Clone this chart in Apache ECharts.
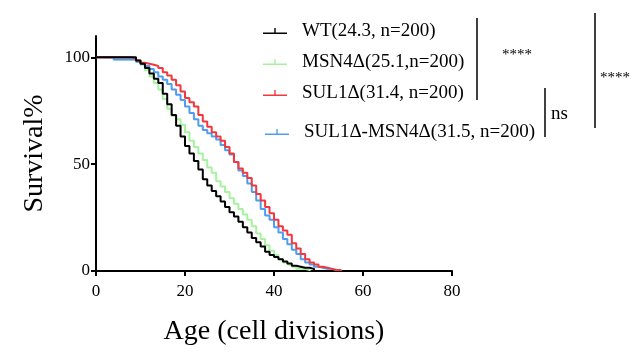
<!DOCTYPE html>
<html>
<head>
    <meta charset="utf-8">
    <style>
        html, body {
            width: 100%;
            height: 100%;
            margin: 0;
            background: #fff;
        }

        #chart-panel {
            width: 644px;
            height: 363px;
        }
    </style>
    <script src="https://cdn.jsdelivr.net/npm/echarts@6/dist/echarts.min.js"></script>
</head>
<body>
<div id="chart-panel"></div>
<script type="text/javascript">

  // age in cell divisions, 0..55
  let ages = [];
  for (let i = 0; i <= 55; i++) ages.push(i);

  // survival %, one value per age
  let wt = [100, 100, 100, 100, 100, 100, 100, 100, 100, 98.5,
            97, 95, 92.5, 90, 88, 83, 78, 73, 68, 63,
            58.5, 55, 51.5, 47.5, 43, 40, 37.5, 35, 32.5, 30,
            27.5, 25.5, 23, 20.5, 18, 15.5, 13.5, 11.5, 9, 7.5,
            6.5, 5.5, 4.5, 3.5, 2.5, 2, 1.5, 1.5, 1, 0];
  let msn4 = [100, 100, 100, 100, 99, 99, 99, 99, 99, 98,
              96.5, 94, 91, 88, 85, 80.5, 76, 72.5, 71, 68.5,
              65, 61, 58, 55, 52, 48.5, 46, 42, 39.5, 37,
              34, 31.5, 29, 26.5, 24, 21, 17.5, 15, 12, 9.5,
              7.5, 5.5, 4, 3, 2, 1, 1, 0.5, 0];
  let sul1 = [100, 100, 100, 100, 100, 100, 100, 100, 99.5, 98.5,
              97.5, 97, 96.5, 96, 95, 93, 91.5, 89.5, 87, 84,
              81, 79, 77, 73, 70, 67.5, 65, 63, 61, 58,
              55, 51, 48, 46, 43.5, 40, 36, 33, 30, 27,
              24, 21, 19, 17, 13, 10.5, 8, 5.5, 4, 3,
              2, 1.5, 1, 0.5, 0.5, 0];
  let sul1msn4 = [100, 100, 100, 100, 99, 99, 99, 99, 99, 98,
                  97, 96, 94.5, 93, 91, 89.5, 87.5, 85, 82.5, 80,
                  77, 74, 71, 68, 66, 64.5, 63, 61.5, 59, 56.5,
                  54.5, 51, 47, 44.5, 41, 37, 33, 29, 26, 24,
                  20.5, 18, 15, 12.5, 10, 8, 5.5, 4, 3, 2,
                  1.5, 1, 1, 0.5, 0.5, 0];

  let names = ['WT(24.3, n=200)', 'MSN4Δ(25.1,n=200)', 'SUL1Δ(31.4, n=200)', 'SUL1Δ-MSN4Δ(31.5, n=200)'];
  let colors = ['#000000', '#a6f2a0', '#f2383d', '#4e9df0'];
  let xTicks = [0, 20, 40, 60, 80];
  let yTicks = [0, 50, 100];

  function pairs(values) {
    return values.map((v, i) => [ages[i], v]);
  }

  let font = 'Liberation Serif';
  // flat line with a small tick pointing up, like the prism legend
  let icon = 'path://M0,4.4 L11.3,4.4 L11.3,0 L12.7,0 L12.7,4.4 L24,4.4 L24,6 L0,6 Z';

  function legendRow(name, left, top) {
    return {
      data: [name],
      left: left,
      top: top,
      padding: 0,
      icon: icon,
      itemWidth: 24,
      itemHeight: 6,
      textStyle: {fontFamily: font, fontSize: 19, color: '#000', lineHeight: 20, padding: [0, 0, 0, 10]}
    };
  }

  var myChart = echarts.init(document.getElementById('chart-panel'));

  var option = {
    animation: false,
    color: colors,
    grid: {left: 96, right: 192, top: 36, bottom: 92},
    legend: [
      legendRow(names[0], 263, 21),
      legendRow(names[1], 263, 52),
      legendRow(names[2], 263, 83),
      legendRow(names[3], 265, 122)
    ],
    xAxis: {
      type: 'value',
      min: 0,
      max: 80,
      interval: 20,
      name: 'Age (cell divisions)',
      nameLocation: 'middle',
      nameGap: 47,
      nameTextStyle: {fontFamily: font, fontSize: 28, color: '#000'},
      axisLine: {lineStyle: {color: '#000', width: 2}},
      axisTick: {length: 5, lineStyle: {color: '#000', width: 2}, customValues: xTicks},
      axisLabel: {fontFamily: font, fontSize: 17, color: '#000', margin: 12, customValues: xTicks},
      splitLine: {show: false}
    },
    yAxis: {
      type: 'value',
      min: 0,
      max: 110,
      interval: 50,
      name: 'Survival%',
      nameLocation: 'middle',
      nameGap: 47,
      nameTextStyle: {fontFamily: font, fontSize: 28, color: '#000'},
      axisLine: {show: true, lineStyle: {color: '#000', width: 2}},
      axisTick: {show: true, length: 5, lineStyle: {color: '#000', width: 2}, customValues: yTicks},
      axisLabel: {fontFamily: font, fontSize: 17, color: '#000', margin: 6, customValues: yTicks},
      splitLine: {show: false}
    },
    series: [
      {name: names[1], type: 'line', step: 'end', showSymbol: false, data: pairs(msn4),
       itemStyle: {color: colors[1]}, lineStyle: {width: 2}},
      {name: names[3], type: 'line', step: 'end', showSymbol: false, data: pairs(sul1msn4),
       itemStyle: {color: colors[3]}, lineStyle: {width: 2}},
      {name: names[2], type: 'line', step: 'end', showSymbol: false, data: pairs(sul1),
       itemStyle: {color: colors[2]}, lineStyle: {width: 2}},
      {name: names[0], type: 'line', step: 'end', showSymbol: false, data: pairs(wt),
       itemStyle: {color: colors[0]}, lineStyle: {width: 2}}
    ],
    // significance brackets on the right
    graphic: [
      {type: 'line', shape: {x1: 477, y1: 18, x2: 477, y2: 100}, style: {stroke: '#000', lineWidth: 1.5}},
      {type: 'text', x: 517, y: 55, style: {text: '****', font: '15px "Liberation Serif"', fill: '#000', align: 'center', verticalAlign: 'middle'}},
      {type: 'line', shape: {x1: 545, y1: 88, x2: 545, y2: 137}, style: {stroke: '#000', lineWidth: 1.5}},
      {type: 'text', x: 551, y: 114, style: {text: 'ns', font: '19px "Liberation Serif"', fill: '#000', align: 'left', verticalAlign: 'middle'}},
      {type: 'line', shape: {x1: 595, y1: 13, x2: 595, y2: 128}, style: {stroke: '#000', lineWidth: 1.5}},
      {type: 'text', x: 600, y: 78, style: {text: '****', font: '15px "Liberation Serif"', fill: '#000', align: 'left', verticalAlign: 'middle'}}
    ]
  };

  myChart.setOption(option);
</script>
</body>
</html>
